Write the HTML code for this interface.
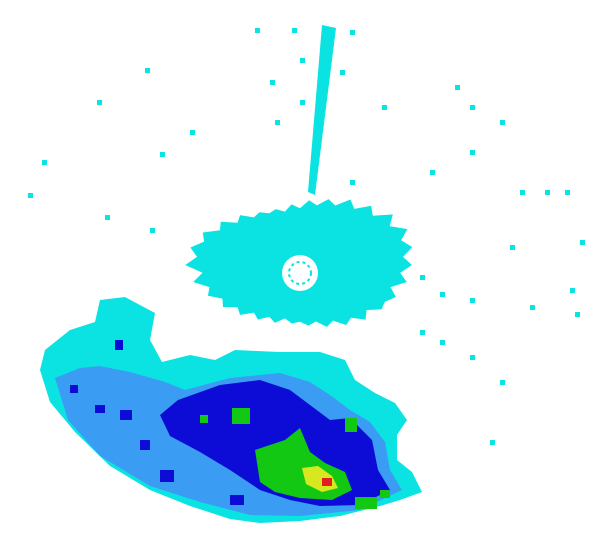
<!DOCTYPE html>
<html><head><meta charset="utf-8"><style>
html,body{margin:0;padding:0;background:#fff;width:600px;height:550px;overflow:hidden}
svg{display:block}
</style></head><body>
<svg id="radar" width="600" height="550" viewBox="0 0 600 550" xmlns="http://www.w3.org/2000/svg">
<rect width="600" height="550" fill="#fff"/>
<g id="speckles" fill="#0be3e3"></g>
<polygon fill="#0be3e3" points="308,192 322,25 336,28 315,195"/>
<g>
<polygon id="clutter" fill="#0be3e3"/>
<circle cx="300" cy="273" r="18" fill="#fff"/>
<circle cx="300" cy="273" r="11" fill="none" stroke="#0be3e3" stroke-width="2" stroke-dasharray="3 3"/>
</g>
<g>
<polygon fill="#0be3e3" points="40,370 45,350 70,330 95,322 100,300 125,297 155,313 150,340 162,362 190,355 215,360 235,350 280,352 320,352 345,360 355,380 375,393 395,403 407,420 397,435 397,460 412,472 422,492 400,500 380,506 340,516 300,521 260,523 230,519 190,506 150,490 110,466 75,432 50,402"/>
<polygon fill="#3a9cf2" points="55,378 80,368 100,366 130,372 165,382 185,390 230,378 280,373 310,382 330,395 350,410 370,422 385,442 390,470 402,490 360,510 300,516 250,515 200,502 150,486 100,456 68,420"/>
<polygon fill="#0c0cd6" points="178,400 220,385 260,380 290,390 310,405 330,420 350,418 372,440 378,470 390,490 360,505 320,506 290,500 260,490 230,470 200,452 170,436 160,415"/>
<rect x="95" y="405" width="10" height="8" fill="#0c0cd6"/><rect x="120" y="410" width="12" height="10" fill="#0c0cd6"/>
<rect x="70" y="385" width="8" height="8" fill="#0c0cd6"/><rect x="115" y="340" width="8" height="10" fill="#0c0cd6"/>
<rect x="160" y="470" width="14" height="12" fill="#0c0cd6"/><rect x="140" y="440" width="10" height="10" fill="#0c0cd6"/>
<rect x="230" y="495" width="14" height="10" fill="#0c0cd6"/>
<polygon fill="#12c812" points="255,450 285,440 300,428 310,452 325,463 345,472 352,490 332,500 300,498 275,492 260,482"/>
<rect x="232" y="408" width="18" height="16" fill="#12c812"/><rect x="345" y="418" width="12" height="14" fill="#12c812"/>
<rect x="355" y="497" width="22" height="12" fill="#12c812"/><rect x="200" y="415" width="8" height="8" fill="#12c812"/>
<rect x="380" y="490" width="10" height="8" fill="#12c812"/>
<polygon fill="#d8e820" points="302,468 318,466 332,476 338,488 322,492 306,484"/>
<rect x="322" y="478" width="10" height="8" fill="#e02020"/>
</g>
</svg>
<script>
const radii=[80,72,78,68,75,70,72,64,70,62,66,58,62,55,58,54,56,52,58,54,60,56,64,60,68,64,72,68,78,70,82,74,80,72,76,66,70,60,64,56,58,54,56,52,58,54,62,58,66,62,72,66,76,70,82,74,84,76,82,74];
const pts=[];
for(let i=0;i<radii.length;i++){const a=i/radii.length*2*Math.PI;const r=radii[i];
pts.push((300+Math.cos(a)*r*1.4).toFixed(1)+','+(265+Math.sin(a)*r*1.05).toFixed(1));}
document.getElementById('clutter').setAttribute('points',pts.join(' '));
const specks=[[255,28],[292,28],[300,58],[350,30],[145,68],[97,100],[190,130],[160,152],[42,160],[28,193],[105,215],[150,228],[275,120],[300,100],[382,105],[455,85],[470,105],[500,120],[520,190],[565,190],[545,190],[510,245],[420,275],[440,292],[470,298],[530,305],[575,312],[570,288],[580,240],[420,330],[440,340],[470,355],[500,380],[490,440],[470,150],[430,170],[350,180],[270,80],[340,70]];
const g=document.getElementById('speckles');
specks.forEach(p=>{const r=document.createElementNS('http://www.w3.org/2000/svg','rect');


r.setAttribute('x',p[0]);r.setAttribute('y',p[1]);r.setAttribute('width',5);r.setAttribute('height',5);g.appendChild(r);});
</script>
</body></html>
